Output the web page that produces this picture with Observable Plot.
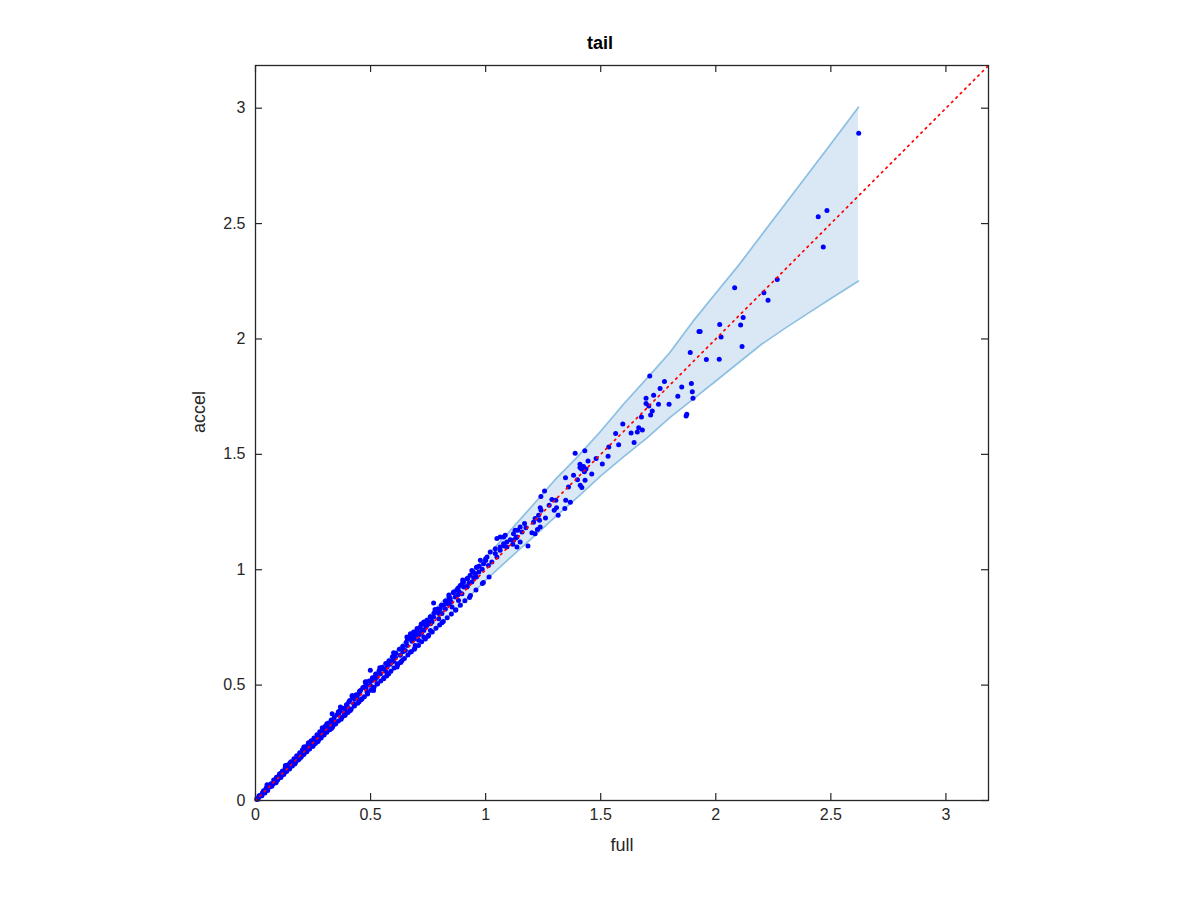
<!DOCTYPE html>
<html>
<head>
<meta charset="utf-8">
<script src="https://cdn.jsdelivr.net/npm/d3@7"></script>
<script src="https://cdn.jsdelivr.net/npm/@observablehq/plot@0.6"></script>
<style>
  html, body { margin: 0; padding: 0; background: white; }
  #title { height: 58px; width: 1200px; position: relative; font-family: "Liberation Sans", Arial, Helvetica, sans-serif; }
  #title span { position: absolute; left: 0; width: 1200px; text-align: center; top: 33px; font-size: 18px; font-weight: bold; color: #000; }
</style>
</head>
<body>
<div id="title"><span>tail</span></div>
<div id="chart"></div>
<script>
const titleText = "tail";
const xLabel = "full";
const yLabel = "accel";
const xTicks = [0, 0.5, 1, 1.5, 2, 2.5, 3];
const yTicks = [0, 0.5, 1, 1.5, 2, 2.5, 3];
const axisMax = 3.185;
const refLine = [0, 3.185];

// prediction band (x, lower, upper)
const bandX  = [0, 0.1, 0.2, 0.3, 0.4, 0.5, 0.6, 0.7, 0.8, 0.9, 1.0, 1.1, 1.2, 1.3, 1.4, 1.5, 1.6, 1.7, 1.8, 1.9, 2.0, 2.1, 2.2, 2.3, 2.4, 2.5, 2.62];
const bandLo = [0, 0.094, 0.189, 0.284, 0.378, 0.472, 0.567, 0.661, 0.757, 0.855, 0.955, 1.046, 1.136, 1.227, 1.315, 1.407, 1.490, 1.570, 1.659, 1.738, 1.818, 1.898, 1.978, 2.046, 2.111, 2.175, 2.251];
const bandHi = [0, 0.106, 0.211, 0.317, 0.423, 0.529, 0.636, 0.742, 0.849, 0.952, 1.053, 1.162, 1.274, 1.388, 1.490, 1.600, 1.718, 1.828, 1.940, 2.075, 2.198, 2.320, 2.452, 2.583, 2.714, 2.845, 3.004];

// samples [full, accel]
const samples = [
  [2.621,2.891],[2.483,2.557],[2.445,2.530],[2.467,2.398],[2.082,2.222],[2.209,2.200],[2.267,2.258],[2.227,2.168],
  [2.119,2.093],[2.108,2.060],[2.114,1.967],[2.017,2.063],[2.023,2.008],[1.927,2.032],[1.932,2.032],[1.889,1.941],
  [1.959,1.911],[2.015,1.912],[1.713,1.839],[1.777,1.816],[1.758,1.785],[1.852,1.792],[1.894,1.807],[1.898,1.771],
  [1.901,1.743],[1.835,1.752],[1.797,1.717],[1.730,1.756],[1.697,1.743],[1.697,1.720],[1.709,1.710],[1.751,1.717],
  [1.724,1.688],[1.717,1.670],[1.677,1.662],[1.874,1.674],[1.871,1.666],
  [1.596,1.632],[1.565,1.590],[1.665,1.615],[1.681,1.606],[1.659,1.597],[1.632,1.593],[1.645,1.551],[1.578,1.542],
  [1.535,1.532],[1.431,1.516],[1.389,1.505],[1.532,1.492],[1.480,1.482],[1.507,1.458],[1.445,1.471],
  [1.410,1.457],[1.425,1.447],[1.436,1.437],[1.417,1.437],[1.429,1.425],[1.410,1.443],[1.461,1.415],[1.382,1.409],
  [1.347,1.399],[1.399,1.390],[1.432,1.388],[1.411,1.366],[1.418,1.356],[1.360,1.359],
  [1.256,1.341],[1.240,1.317],[1.288,1.304],[1.305,1.301],[1.308,1.269],[1.298,1.258],[1.348,1.301],[1.368,1.292],
  [1.344,1.265],[1.315,1.236],[1.276,1.279],[1.237,1.269],[1.241,1.258],[1.260,1.224],[1.230,1.236],[1.215,1.222],
  [1.234,1.214],[1.237,1.185],[1.225,1.174],[1.208,1.206],[1.169,1.200],[1.175,1.182],[1.150,1.185],[1.139,1.171],
  [1.158,1.163],[1.201,1.160],[1.215,1.156],[1.184,1.103],[1.121,1.156],[1.131,1.137],[1.107,1.130],[1.150,1.120],
  [1.118,1.110],[1.092,1.120],[1.078,1.142],[1.049,1.135],[1.081,1.103],[1.063,1.098],[1.042,1.091],[1.136,1.098],
  [1.063,1.142],[1.085,1.149],[1.128,1.171],[1.136,1.142],[1.121,1.128],[1.078,1.113],[1.092,1.098],[1.063,1.084],
  [1.042,1.070],[1.049,1.055],[1.020,1.077],[1.006,1.055],[1.027,1.033],[0.991,1.026],[0.977,1.041],[0.962,1.012],
  [0.940,0.997],[0.955,0.983],[0.933,0.976],[0.919,0.961],[0.940,0.947],[0.904,0.947],[0.890,0.932],[0.919,0.925],
  [0.875,0.911],[0.897,0.896],[0.861,0.903],[0.868,0.882],[0.882,0.867],[0.846,0.875],[0.832,0.853],[0.817,0.846],
  [0.854,0.838],[0.803,0.831],[0.789,0.824],[0.774,0.856],[0.810,0.810],[0.774,0.795],[0.760,0.795],[0.796,0.788],
  [0.745,0.781],[0.731,0.773],[0.760,0.766],[0.716,0.752],[0.702,0.745],[0.687,0.730],[0.673,0.723],[0.731,0.737],
  [0.658,0.708],[0.709,0.716],[0.985,1.002],[1.012,1.018],[0.970,0.990],[0.928,0.942],[0.905,0.925],[0.850,0.860],
  [0.825,0.830],[0.795,0.812],[0.765,0.778],[0.740,0.752],[1.000,1.040],[0.948,0.965],[0.885,0.905],[0.838,0.868],
  [0.340,0.347],[0.362,0.376],[0.333,0.376],[0.376,0.361],[0.391,0.398],[0.369,0.405],[0.412,0.390],[0.405,0.426],
  [0.427,0.419],[0.441,0.448],[0.420,0.455],[0.463,0.441],[0.456,0.477],[0.470,0.491],[0.485,0.470],[0.499,0.499],
  [0.506,0.520],[0.477,0.513],[0.528,0.506],[0.528,0.535],[0.543,0.549],[0.557,0.528],[0.550,0.571],[0.572,0.578],
  [0.579,0.549],[0.593,0.600],[0.608,0.621],[0.615,0.593],[0.629,0.629],[0.637,0.607],[0.651,0.650],[0.658,0.672],
  [0.673,0.643],[0.680,0.694],[0.694,0.672],[0.702,0.716],[0.709,0.694],[0.723,0.737],[0.731,0.708],[0.745,0.759],
  [0.760,0.737],[0.767,0.773],[0.673,0.708],[0.499,0.564],[0.513,0.477],[0.615,0.578],[0.450,0.462],[0.520,0.535],
  [0.565,0.560],[0.600,0.605],[0.640,0.655],[0.690,0.700],[0.720,0.725],[0.385,0.380],[0.430,0.440],[0.585,0.590],
  [0.005,0.006],[0.012,0.010],[0.018,0.022],[0.025,0.023],[0.030,0.034],[0.038,0.036],[0.044,0.048],[0.050,0.047],
  [0.057,0.060],[0.062,0.058],[0.068,0.073],[0.075,0.071],[0.082,0.086],[0.088,0.084],[0.094,0.099],[0.100,0.097],
  [0.107,0.112],[0.113,0.108],[0.120,0.126],[0.126,0.121],[0.132,0.138],[0.138,0.134],[0.145,0.151],[0.150,0.144],
  [0.157,0.164],[0.163,0.158],[0.170,0.176],[0.176,0.170],[0.182,0.190],[0.188,0.183],[0.195,0.203],[0.201,0.195],
  [0.207,0.214],[0.213,0.207],[0.220,0.229],[0.226,0.220],[0.232,0.241],[0.238,0.231],[0.245,0.254],[0.251,0.244],
  [0.257,0.266],[0.263,0.255],[0.270,0.279],[0.276,0.268],[0.282,0.292],[0.288,0.280],[0.295,0.305],[0.301,0.292],
  [0.307,0.318],[0.313,0.304],[0.320,0.330],[0.326,0.317],[0.332,0.343],[0.338,0.327],[0.300,0.312],[0.250,0.258],
  [0.200,0.207],[0.150,0.155],[0.100,0.104],[0.060,0.064],[0.022,0.020],[0.310,0.300],[0.270,0.262],[0.230,0.224],
  [0.180,0.177],[0.130,0.128],
  [0.008,0.004],[0.015,0.019],[0.028,0.021],[0.035,0.042],[0.041,0.033],[0.047,0.055],[0.053,0.043],[0.065,0.070],
  [0.071,0.062],[0.079,0.089],[0.085,0.076],[0.091,0.101],[0.097,0.090],[0.104,0.115],[0.110,0.100],[0.117,0.128],
  [0.123,0.113],[0.129,0.142],[0.135,0.126],[0.142,0.155],[0.148,0.137],[0.154,0.168],[0.160,0.150],[0.167,0.181],
  [0.173,0.162],[0.179,0.194],[0.185,0.175],[0.192,0.207],[0.198,0.187],[0.204,0.220],[0.210,0.199],[0.217,0.233],
  [0.223,0.211],[0.229,0.246],[0.235,0.223],[0.242,0.259],[0.248,0.236],[0.254,0.271],[0.260,0.247],[0.267,0.285],
  [0.273,0.259],[0.279,0.298],[0.285,0.271],[0.292,0.310],[0.298,0.284],[0.304,0.323],[0.310,0.296],[0.317,0.336],
  [0.323,0.307],[0.329,0.349],[0.335,0.319],[0.342,0.360],[0.348,0.332],[0.354,0.372],[0.360,0.345],[0.366,0.388],
  [0.372,0.352],
  [0.380,0.400],[0.388,0.368],[0.395,0.415],[0.402,0.381],[0.409,0.433],[0.416,0.396],[0.423,0.446],[0.430,0.410],
  [0.437,0.458],[0.444,0.421],[0.452,0.473],[0.459,0.437],[0.466,0.489],[0.473,0.450],[0.480,0.503],[0.487,0.462],
  [0.494,0.518],[0.501,0.478],[0.508,0.532],[0.515,0.491],[0.522,0.548],[0.530,0.505],[0.537,0.562],[0.544,0.518],
  [0.551,0.577],[0.558,0.532],[0.566,0.594],[0.573,0.546],[0.580,0.606],[0.588,0.560],[0.595,0.623],[0.602,0.574],
  [0.610,0.638],[0.618,0.588],[0.625,0.655],[0.632,0.600],[0.640,0.668],[0.647,0.615],[0.655,0.686],[0.662,0.630],
  [0.670,0.701],[0.677,0.645],[0.685,0.718],[0.692,0.660],[0.700,0.734],[0.708,0.672],[0.715,0.748],[0.722,0.688],
  [0.730,0.765],[0.738,0.700],[0.745,0.779],[0.752,0.716],[0.760,0.796],[0.768,0.730],[0.776,0.812],[0.784,0.746],
  [0.792,0.830],[0.800,0.760],[0.808,0.846],[0.816,0.776],[0.825,0.864],[0.833,0.792],[0.842,0.882],[0.851,0.808],
  [0.860,0.900],[0.870,0.826],[0.880,0.920],[0.890,0.846],[0.900,0.942],[0.910,0.866],[0.922,0.962],[0.934,0.888],
  [0.946,0.990],[0.958,0.912],[0.972,1.015],[0.986,0.940],[1.000,1.048],[1.015,0.968],
  [0.360,0.385],[0.390,0.372],[0.420,0.452],[0.450,0.428],[0.480,0.515],[0.510,0.482],[0.540,0.575],[0.570,0.540],
  [0.600,0.640],[0.630,0.598],[0.660,0.700],[0.690,0.655],[0.720,0.765],[0.750,0.712],[0.780,0.828],[0.810,0.770],
  [0.840,0.890],[0.870,0.825],[0.900,0.955],[0.930,0.880],[0.960,1.010],[0.990,0.945],
  [0.400,0.405],[0.440,0.445],[0.480,0.487],[0.520,0.525],[0.560,0.568],[0.600,0.610],[0.640,0.645],[0.680,0.690],
  [0.720,0.728],[0.760,0.770],[0.800,0.808],[0.840,0.850],[0.880,0.892],[0.920,0.930],[0.960,0.968],
  [0.050,0.068],[0.090,0.078],[0.130,0.152],[0.170,0.158],[0.210,0.232],[0.250,0.235],[0.290,0.315],[0.330,0.312],
  [0.070,0.066],[0.110,0.118],[0.150,0.163],[0.190,0.180],[0.230,0.250],[0.270,0.255],[0.310,0.333],[0.350,0.338]
];

const band = bandX.map((x, i) => ({x, lo: bandLo[i], hi: bandHi[i]}));
const innerH = 735, innerW = 733, tickLen = 7;
const ink = "#262626";

const chart = Plot.plot({
  width: 1200,
  height: 842,
  marginLeft: 255,
  marginRight: 212,
  marginTop: 7,
  marginBottom: 100,
  style: {fontFamily: "'Liberation Sans', Arial, Helvetica, sans-serif", fontSize: "16px", color: ink, background: "white"},
  x: {domain: [0, axisMax]},
  y: {domain: [0, axisMax]},
  marks: [
    Plot.areaY(band, {x: "x", y1: "lo", y2: "hi", fill: "#d9e8f4", curve: "linear"}),
    Plot.line(band, {x: "x", y: "hi", stroke: "#8cbfe2", strokeWidth: 1.7}),
    Plot.line(band, {x: "x", y: "lo", stroke: "#8cbfe2", strokeWidth: 1.7}),
    Plot.dot(samples, {x: d => d[0], y: d => d[1], r: 2.5, fill: "#0000ff", stroke: null}),
    Plot.line(refLine, {x: d => d, y: d => d, stroke: "#ff0000", strokeWidth: 1.7, strokeDasharray: "1.6,4.6"}),
    Plot.frame({stroke: ink, strokeWidth: 1.3}),
    Plot.ruleX(xTicks, {x: d => d, insetTop: innerH - tickLen, stroke: ink, strokeWidth: 1.2}),
    Plot.ruleX(xTicks, {x: d => d, insetBottom: innerH - tickLen, stroke: ink, strokeWidth: 1.2}),
    Plot.ruleY(yTicks, {y: d => d, insetRight: innerW - tickLen, stroke: ink, strokeWidth: 1.2}),
    Plot.ruleY(yTicks, {y: d => d, insetLeft: innerW - tickLen, stroke: ink, strokeWidth: 1.2}),
    Plot.axisX({ticks: xTicks, tickSize: 0, tickPadding: 8, tickFormat: d => String(d), label: null, fontSize: 16}),
    Plot.axisY({ticks: yTicks, tickSize: 0, tickPadding: 10, tickFormat: d => String(d), label: null, fontSize: 16}),
    Plot.text([xLabel], {text: d => d, frameAnchor: "bottom", dy: 45, lineAnchor: "middle", fontSize: 18, fill: ink}),
    Plot.text([yLabel], {text: d => d, frameAnchor: "left", dx: -56, rotate: -90, lineAnchor: "middle", fontSize: 18, fill: ink})
  ]
});
document.getElementById("chart").appendChild(chart);
document.querySelector("#title span").textContent = titleText;
</script>
</body>
</html>
